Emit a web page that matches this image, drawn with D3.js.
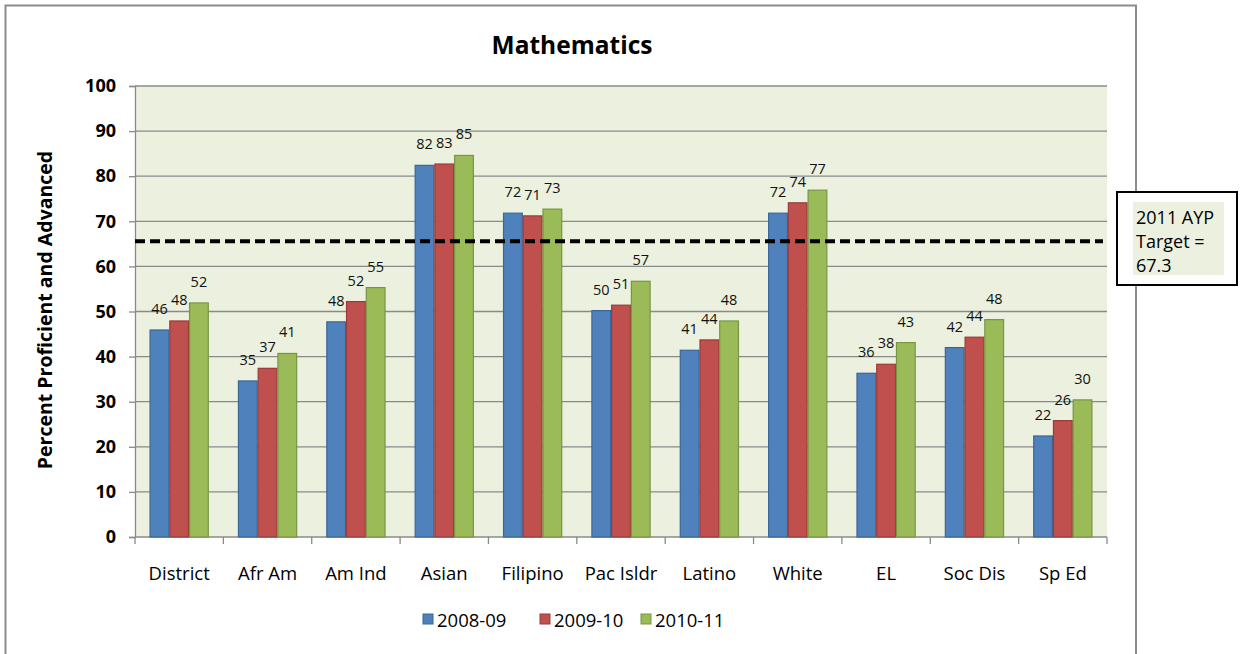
<!DOCTYPE html>
<html><head><meta charset="utf-8">
<script src="https://cdn.jsdelivr.net/npm/d3@7"></script>
<style>body{margin:0;background:#fff;} svg{display:block;font-family:"Open Sans",Lato,sans-serif;}</style>
</head><body><svg id="c" width="1241" height="654"></svg>
<script>
const categories = ["District","Afr Am","Am Ind","Asian","Filipino","Pac Isldr","Latino","White","EL","Soc Dis","Sp Ed"];
const seriesNames = ["2008-09","2009-10","2010-11"];
const s2008 = [45.9,34.6,47.7,82.4,71.8,50.2,41.4,71.8,36.3,42.0,22.4];
const s2009 = [47.9,37.4,52.2,82.7,71.2,51.4,43.7,74.1,38.3,44.3,25.8];
const s2010 = [51.9,40.7,55.3,84.6,72.7,56.7,47.9,76.9,43.1,48.2,30.4];
const yTicks = [0,10,20,30,40,50,60,70,80,90,100];
const targetLine = 65.6;
const targetText = ["2011 AYP","Target =","67.3"];
const colors = ["#4F81BD","#C0504D","#9BBB59"];
const strokes = ["#3A6697","#9A3B39","#789544"];

const svg = d3.select("#c");
const L=135,R=1107,T=86,B=537;
svg.append("rect").attr("x",5.5).attr("y",5.5).attr("width",1130.5).attr("height",700).attr("fill","#fff").attr("stroke","#8c8c8c").attr("stroke-width",2);

const x = d3.scaleBand().domain(categories).range([L,R]).paddingInner(0.33).paddingOuter(0.165);
const xb = d3.scaleBand().domain(categories).range([L,R]);
const xs = d3.scaleBand().domain(seriesNames).range([0,x.bandwidth()]);
const y = d3.scaleLinear().domain([0,100]).range([B,T]);

svg.append("rect").attr("x",L).attr("y",T).attr("width",R-L).attr("height",B-T).attr("fill","#EBF1DE");
svg.append("g").selectAll("line").data(yTicks.filter(d=>d>0)).join("line")
  .attr("x1",L).attr("x2",R).attr("y1",d=>y(d)).attr("y2",d=>y(d)).attr("stroke","#8a8a8a").attr("stroke-width",1.3);

const ya = svg.append("g").attr("transform",`translate(${L},0)`).call(d3.axisLeft(y).tickValues(yTicks).tickSize(6).tickPadding(13));
ya.select(".domain").attr("stroke","#8a8a8a").attr("stroke-width",1.3);
ya.selectAll(".tick line").attr("stroke","#8a8a8a").attr("stroke-width",1.3);
ya.selectAll("text").attr("font-size",18).attr("font-weight","bold").attr("fill","#000").attr("font-family","'Open Sans',sans-serif");

const xa = svg.append("g").attr("transform",`translate(0,${B})`);
xa.append("line").attr("x1",L).attr("x2",R).attr("stroke","#8a8a8a").attr("stroke-width",1.3);
const bounds = categories.map(c=>xb(c)).concat([R]);
xa.selectAll("line.t").data(bounds).join("line").attr("class","t").attr("x1",d=>d).attr("x2",d=>d).attr("y1",0).attr("y2",7).attr("stroke","#8a8a8a").attr("stroke-width",1.3);
xa.selectAll("text").data(categories).join("text").attr("x",d=>xb(d)+xb.bandwidth()/2).attr("y",43)
  .attr("text-anchor","middle").attr("font-size",18.5).attr("font-weight",500).attr("fill","#000").text(d=>d);

const series = [s2008,s2009,s2010];
series.forEach((vals,si)=>{
  const g = svg.append("g");
  g.selectAll("rect").data(vals).join("rect")
    .attr("x",(d,i)=>x(categories[i])+xs(seriesNames[si])+0.5)
    .attr("y",d=>y(d)).attr("width",xs.bandwidth()-1).attr("height",d=>B-y(d))
    .attr("fill",colors[si]).attr("stroke",strokes[si]).attr("stroke-width",1.2);
  g.selectAll("text").data(vals).join("text")
    .attr("x",(d,i)=>x(categories[i])+xs(seriesNames[si])+xs.bandwidth()/2)
    .attr("y",d=>y(d)-16).attr("text-anchor","middle").attr("font-size",14.5).attr("fill","#111")
    .text(d=>Math.round(d));
});

svg.append("line").attr("x1",L).attr("x2",R-4).attr("y1",y(targetLine)).attr("y2",y(targetLine))
  .attr("stroke","#000").attr("stroke-width",4).attr("stroke-dasharray","10,5");

svg.append("text").attr("x",572).attr("y",54).attr("text-anchor","middle").attr("font-size",24.5).attr("font-weight","bold").text("Mathematics");
svg.append("text").attr("transform","translate(52,310) rotate(-90)").attr("text-anchor","middle").attr("font-size",19.5).attr("font-weight","bold").text("Percent Proficient and Advanced");

const lg = svg.append("g");
const lx = [423,540,641];
seriesNames.forEach((n,i)=>{
  lg.append("rect").attr("x",lx[i]).attr("y",614).attr("width",10).attr("height",10).attr("fill",colors[i]).attr("stroke",strokes[i]);
  lg.append("text").attr("x",lx[i]+14).attr("y",627).attr("font-size",18.5).attr("font-weight",500).attr("fill","#000").text(n);
});

svg.append("rect").attr("x",1117).attr("y",192).attr("width",120).attr("height",93).attr("fill","#fff").attr("stroke","#000").attr("stroke-width",2);
svg.append("rect").attr("x",1133).attr("y",202).attr("width",91).attr("height",73).attr("fill","#EBF1DE");
svg.append("g").selectAll("text").data(targetText).join("text").attr("x",1136).attr("y",(d,i)=>224+i*24).attr("font-size",18).attr("fill","#000").text(d=>d);
</script></body></html>
